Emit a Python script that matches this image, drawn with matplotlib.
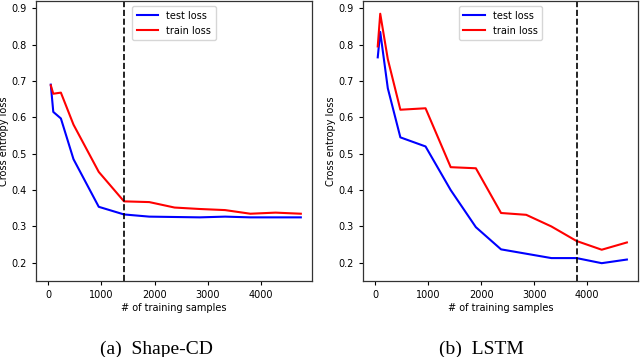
import matplotlib
matplotlib.use('Agg')
import matplotlib.pyplot as plt

# Training set sizes
samples = [48, 95, 238, 475, 950, 1425, 1900, 2375, 2850, 3325, 3800, 4275, 4750]

# (a) Shape-CD
shape_test = [0.690, 0.615, 0.597, 0.485, 0.354, 0.333, 0.327, 0.326, 0.325, 0.327, 0.325, 0.325, 0.325]
shape_train = [0.688, 0.665, 0.668, 0.580, 0.450, 0.369, 0.367, 0.352, 0.348, 0.345, 0.335, 0.338, 0.335]
shape_cut = 1425

# (b) LSTM
lstm_test = [0.765, 0.835, 0.680, 0.545, 0.520, 0.400, 0.298, 0.237, 0.225, 0.213, 0.213, 0.199, 0.209]
lstm_train = [0.795, 0.885, 0.760, 0.621, 0.625, 0.463, 0.460, 0.337, 0.332, 0.300, 0.260, 0.236, 0.256]
lstm_cut = 3800

captions = ['(a)  Shape-CD', '(b)  LSTM']

fig = plt.figure(figsize=(6.4, 3.57), dpi=100)
ax1 = fig.add_axes([0.05625, 0.2129, 0.43125, 0.7843])
ax2 = fig.add_axes([0.5672, 0.2129, 0.4297, 0.7843])

panels = [(ax1, shape_test, shape_train, shape_cut),
          (ax2, lstm_test, lstm_train, lstm_cut)]

for ax, test, train, cut in panels:
    ax.plot(samples, test, color='blue', lw=1.5, label='test loss')
    ax.plot(samples, train, color='red', lw=1.5, label='train loss')
    ax.axvline(cut, color='black', ls='--', lw=1.2)
    ax.set_ylim(0.15, 0.92)
    ax.set_xlim(-230, 4960)
    ax.set_xticks([0, 1000, 2000, 3000, 4000])
    ax.set_yticks([0.2, 0.3, 0.4, 0.5, 0.6, 0.7, 0.8, 0.9])
    ax.tick_params(labelsize=7, length=3, width=0.8)
    ax.set_xlabel('# of training samples', fontsize=7, labelpad=2)
    ax.set_ylabel('Cross entropy loss', fontsize=7, labelpad=2)
    for s in ax.spines.values():
        s.set_linewidth(0.9)
        s.set_color('#333333')
    ax.legend(loc='upper center', fontsize=7, handlelength=2.2, borderpad=0.5)

fig.text(0.244, 0.008, captions[0], fontsize=14, family='Liberation Serif', ha='center', va='baseline')
fig.text(0.752, 0.008, captions[1], fontsize=14, family='Liberation Serif', ha='center', va='baseline')

fig.savefig('out.png', dpi=100)
